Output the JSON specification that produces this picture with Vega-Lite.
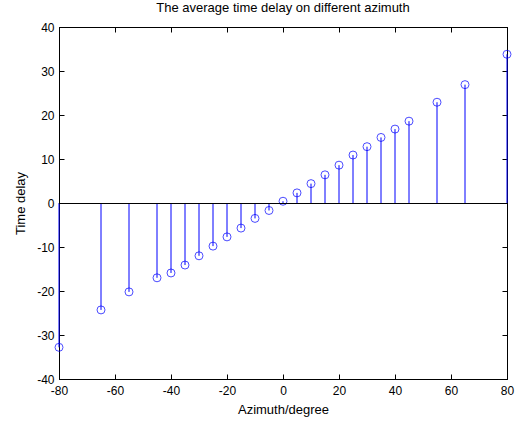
{
  "$schema": "https://vega.github.io/schema/vega-lite/v6.json",
  "autosize": "none",
  "width": 448,
  "height": 352,
  "padding": {"left": 59, "top": 27, "right": 10, "bottom": 43},
  "background": "white",
  "title": {"text": "The average time delay on different azimuth", "font": "Liberation Sans", "fontSize": 13, "fontWeight": "normal", "color": "#000000", "offset": 6},
  "config": {
    "view": {"stroke": "#000000", "strokeWidth": 1},
    "axis": {"grid": false, "zindex": 1, "domainColor": "#000000", "tickColor": "#000000", "labelColor": "#000000", "titleColor": "#000000", "labelFont": "Liberation Sans", "titleFont": "Liberation Sans", "labelFontSize": 12, "titleFontSize": 13, "titleFontWeight": "normal", "tickSize": -5, "labelFlush": false, "labelOverlap": false, "labelExpr": "'' + datum.value"}
  },
  "resolve": {"axis": {"x": "independent", "y": "independent"}},
  "data": {"values": [
    {"azimuth": -80, "delay": -32.8},
    {"azimuth": -65, "delay": -24.3},
    {"azimuth": -55, "delay": -20.2},
    {"azimuth": -45, "delay": -17.0},
    {"azimuth": -40, "delay": -15.9},
    {"azimuth": -35, "delay": -14.1},
    {"azimuth": -30, "delay": -12.0},
    {"azimuth": -25, "delay": -9.8},
    {"azimuth": -20, "delay": -7.7},
    {"azimuth": -15, "delay": -5.7},
    {"azimuth": -10, "delay": -3.5},
    {"azimuth": -5, "delay": -1.7},
    {"azimuth": 0, "delay": 0.4},
    {"azimuth": 5, "delay": 2.3},
    {"azimuth": 10, "delay": 4.4},
    {"azimuth": 15, "delay": 6.4},
    {"azimuth": 20, "delay": 8.6},
    {"azimuth": 25, "delay": 10.9},
    {"azimuth": 30, "delay": 12.8},
    {"azimuth": 35, "delay": 14.9},
    {"azimuth": 40, "delay": 16.8},
    {"azimuth": 45, "delay": 18.6},
    {"azimuth": 55, "delay": 22.9},
    {"azimuth": 65, "delay": 26.9},
    {"azimuth": 80, "delay": 33.8}
  ]},
  "layer": [
    {
      "mark": {"type": "rule", "color": "#0000ff", "strokeWidth": 1},
      "encoding": {
        "x": {"field": "azimuth", "type": "quantitative", "scale": {"domain": [-80, 80], "nice": false, "zero": false}, "axis": {"orient": "bottom", "title": "Azimuth/degree", "values": [-80, -60, -40, -20, 0, 20, 40, 60, 80], "titlePadding": 7, "labelPadding": 11}},
        "y": {"field": "delay", "type": "quantitative", "scale": {"domain": [-40, 40], "nice": false}, "axis": {"orient": "left", "title": "Time delay", "values": [-40, -30, -20, -10, 0, 10, 20, 30, 40], "titlePadding": 9, "labelPadding": 10}},
        "y2": {"datum": 0}
      }
    },
    {
      "mark": {"type": "point", "shape": "circle", "filled": false, "color": "#0000ff", "size": 64, "strokeWidth": 1},
      "encoding": {
        "x": {"field": "azimuth", "type": "quantitative", "axis": {"orient": "top", "labels": false, "title": null, "values": [-80, -60, -40, -20, 0, 20, 40, 60, 80]}},
        "y": {"field": "delay", "type": "quantitative", "axis": {"orient": "right", "labels": false, "title": null, "values": [-40, -30, -20, -10, 0, 10, 20, 30, 40]}}
      }
    },
    {
      "mark": {"type": "rule", "color": "#000000", "strokeWidth": 1, "yOffset": 0.5},
      "encoding": {"y": {"datum": 0, "axis": null}}
    }
  ]
}
